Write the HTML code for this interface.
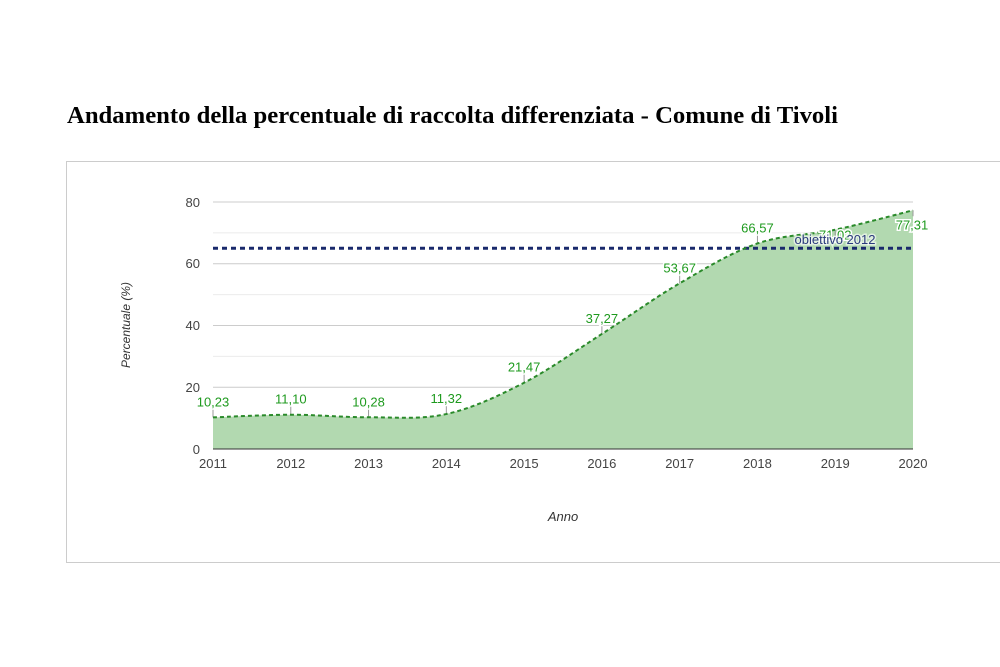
<!DOCTYPE html>
<html><head><meta charset="utf-8"><style>
body{margin:0;background:#fff;width:1000px;height:667px;overflow:hidden;position:relative;font-family:"Liberation Sans",sans-serif}
h1{position:absolute;left:67px;top:102px;margin:0;font:bold 24.7px "Liberation Serif",serif;color:#000;white-space:nowrap}
.box{position:absolute;left:66px;top:161px;width:940px;height:400px;border:1px solid #ccc;border-right:none}
</style></head><body>
<h1>Andamento della percentuale di raccolta differenziata - Comune di Tivoli</h1>
<div class="box"></div>
<svg id="s" width="1000" height="667" style="position:absolute;left:0;top:0" font-family="Liberation Sans, sans-serif">
<g stroke="#ebebeb"><line x1="213" x2="913" y1="418.1" y2="418.1"/><line x1="213" x2="913" y1="356.4" y2="356.4"/><line x1="213" x2="913" y1="294.6" y2="294.6"/><line x1="213" x2="913" y1="232.9" y2="232.9"/></g>
<g stroke="#ccc"><line x1="213" x2="913" y1="387.3" y2="387.3"/><line x1="213" x2="913" y1="325.5" y2="325.5"/><line x1="213" x2="913" y1="263.8" y2="263.8"/><line x1="213" x2="913" y1="202" y2="202"/></g>
<path id="area" fill="#b2d9b0"/>
<g id="ticks" stroke="#999" stroke-width="1"></g>
<line x1="213" x2="913" y1="248.3" y2="248.3" stroke="#1a2a6c" stroke-width="3" stroke-dasharray="5,4"/>
<path id="line" fill="none" stroke="#2a8a2a" stroke-width="2" stroke-dasharray="4,3"/>
<line x1="213" x2="913" y1="449" y2="449" stroke="#333" stroke-width="1"/>
<g font-size="13" fill="#444" text-anchor="end"><text x="200" y="454">0</text><text x="200" y="392">20</text><text x="200" y="330">40</text><text x="200" y="268">60</text><text x="200" y="207">80</text></g>
<g id="xl" font-size="13" fill="#444" text-anchor="middle"></g>
<g id="vl" font-size="13" fill="#1e9a1e" text-anchor="middle" stroke="#fff" stroke-width="3" paint-order="stroke"></g>
<text x="835" y="244" font-size="13" fill="#2a3a7c" text-anchor="middle" stroke="#fff" stroke-width="3" paint-order="stroke" stroke-opacity="0.6">obiettivo 2012</text>
<text x="563" y="521" font-size="13" fill="#333" font-style="italic" text-anchor="middle">Anno</text>
<text transform="translate(130,325) rotate(-90)" font-size="12" fill="#333" font-style="italic" text-anchor="middle">Percentuale (%)</text>
</svg>
<script>
var v=[10.23,11.10,10.28,11.32,21.47,37.27,53.67,66.57,71.02,77.31];
var p=v.map(function(d,i){return [213+i*700/9,449-d*3.0875]});
var d="M"+p[0];
for(var i=0;i<9;i++){var a=p[i-1]||p[i],b=p[i],c=p[i+1],e=p[i+2]||c;
d+=" C"+(b[0]+(c[0]-a[0])/6)+","+(b[1]+(c[1]-a[1])/6)+" "+(c[0]-(e[0]-b[0])/6)+","+(c[1]-(e[1]-b[1])/6)+" "+c[0]+","+c[1];}
document.getElementById("line").setAttribute("d",d);
document.getElementById("area").setAttribute("d",d+" L913,449 L213,449 Z");
var ns="http://www.w3.org/2000/svg",t=document.getElementById("ticks"),xl=document.getElementById("xl"),vl=document.getElementById("vl");
p.forEach(function(q,i){var below=i>=8;var l=document.createElementNS(ns,"line");l.setAttribute("x1",q[0]);l.setAttribute("x2",q[0]);l.setAttribute("y1",q[1]);l.setAttribute("y2",below?q[1]+6:q[1]-12);t.appendChild(l);
var x=document.createElementNS(ns,"text");x.setAttribute("x",q[0]);x.setAttribute("y",468);x.textContent=2011+i;xl.appendChild(x);
var y=document.createElementNS(ns,"text");y.setAttribute("x",i==9?q[0]-1:q[0]);y.setAttribute("y",i==8?q[1]+10:(below?q[1]+19:q[1]-11));y.textContent=v[i].toFixed(2).replace(".",",");vl.appendChild(y);});
vl.parentNode.appendChild(vl.parentNode.querySelector('text[x="835"]'));
</script>
</body></html>
